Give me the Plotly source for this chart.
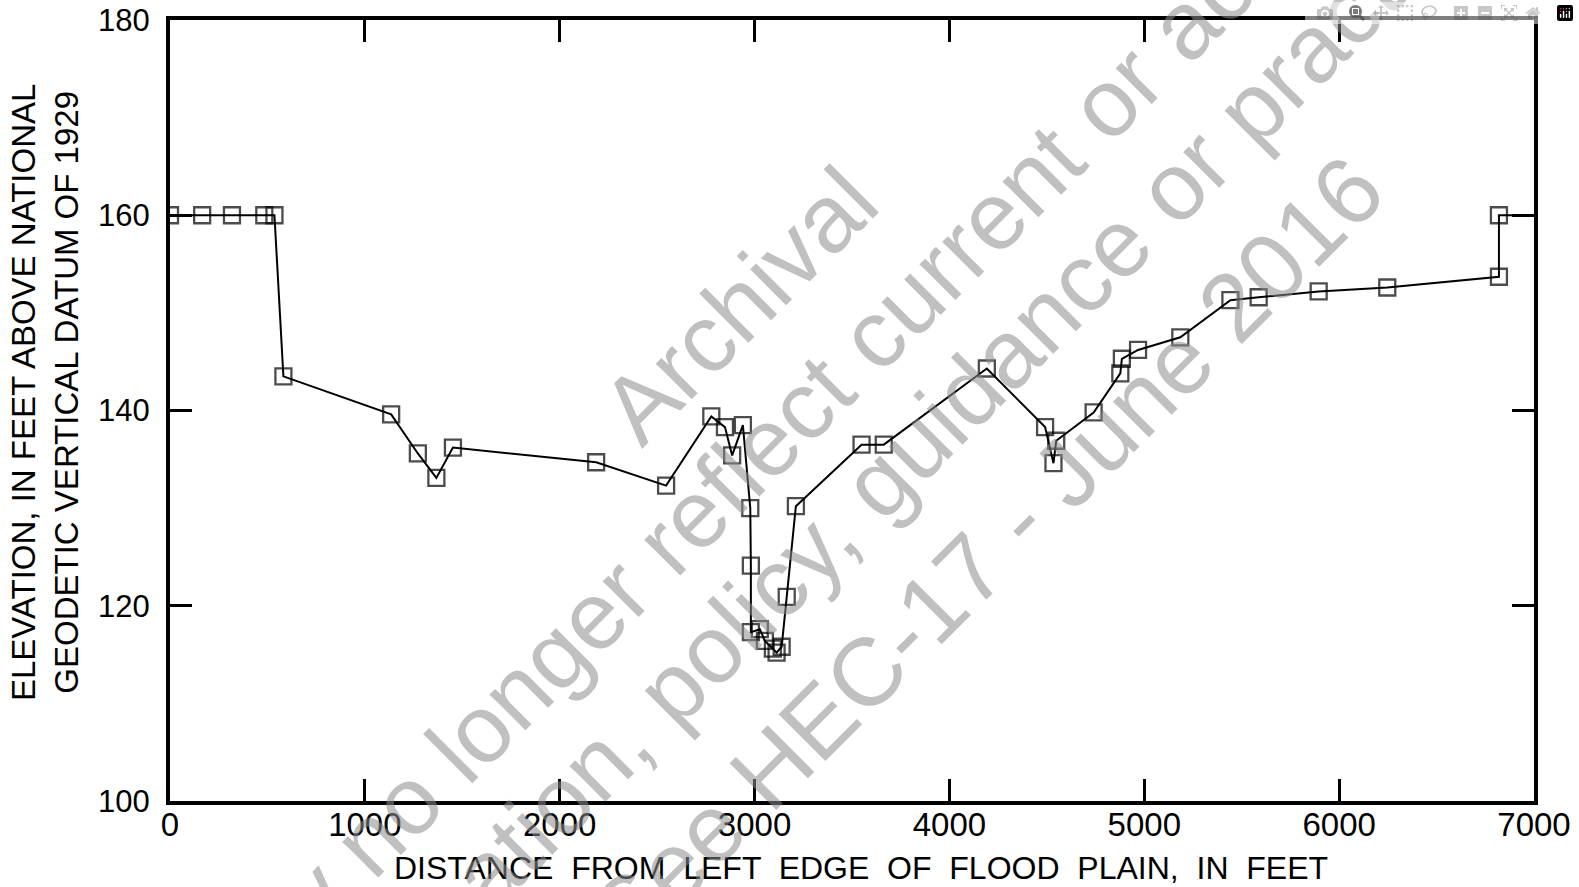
import plotly.graph_objects as go

# ---- data ----
distance_ft = [0, 165, 318, 484, 536, 582, 1135, 1272, 1367, 1452, 2187, 2546, 2778,
               2848, 2885, 2940, 2978, 2981, 2981, 3027, 3053, 3094, 3113, 3139, 3165,
               3212, 3549, 3663, 4192, 4491, 4534, 4548, 4740, 4877, 4885, 4968, 5185,
               5442, 5587, 5895, 6247, 6820, 6820, 7000]
elevation_ft = [160, 160, 160, 160, 160, 143.5, 139.6, 135.6, 133.1, 136.2, 134.7, 132.3, 139.4,
                138.3, 135.4, 138.5, 130.0, 124.1, 117.3, 117.6, 116.4, 115.6, 115.2, 115.8, 120.9,
                130.2, 136.5, 136.5, 144.3, 138.3, 134.6, 136.9, 139.8, 143.8, 145.3, 146.2, 147.5,
                151.3, 151.6, 152.2, 152.6, 153.7, 160, 160]
has_marker = [True] * (len(distance_ft) - 1) + [False]

x_ticks = [0, 1000, 2000, 3000, 4000, 5000, 6000, 7000]
y_ticks = [100, 120, 140, 160, 180]

x_title = "DISTANCE FROM LEFT EDGE OF FLOOD PLAIN, IN FEET"
y_title_lines = ["ELEVATION, IN FEET ABOVE NATIONAL", "GEODETIC VERTICAL DATUM OF 1929"]
watermark_lines = ["Archival",
                   "may no longer reflect current or accurate",
                   "information, policy, guidance or practice",
                   "See HEC-17 - June 2016"]

W, H = 1579, 887
L, R, T, B = 170, 45, 20, 86
pw, ph = W - L - R, H - T - B

def px_to_paper(xp, yp):
    return (xp - L) / pw, (H - B - yp) / ph

FONT = "Liberation Sans"

fig = go.Figure()
fig.add_trace(go.Scatter(
    x=distance_ft, y=elevation_ft, mode="lines+markers",
    line=dict(color="black", width=2),
    marker=dict(symbol="square-open", size=[16 if m else 0 for m in has_marker],
                color="black", line=dict(color="black", width=2.3)),
    showlegend=False, hoverinfo="x+y",
))

axis_common = dict(showgrid=False, zeroline=False, showline=True, linecolor="black",
                   linewidth=4, mirror="ticks", ticks="inside", ticklen=22, tickwidth=2.5,
                   tickcolor="black", automargin=False)

fig.update_xaxes(range=[0, 7000], tickvals=x_ticks, ticktext=[str(v) for v in x_ticks],
                 tickfont=dict(family=FONT, size=33, color="black"), ticklabelstandoff=-9,
                 **axis_common)
fig.update_yaxes(range=[100, 180], tickvals=y_ticks, ticktext=[str(v) for v in y_ticks],
                 tickfont=dict(family=FONT, size=31, color="black"), ticklabelstandoff=10,
                 **axis_common)

annotations = []
ax, ay = px_to_paper(861, 868)
annotations.append(dict(x=ax, y=ay, xref="paper", yref="paper",
                        text=" \u00a0".join(x_title.split(" ")), showarrow=False,
                        font=dict(family=FONT, size=32, color="black"),
                        xanchor="center", yanchor="middle"))
ax, ay = px_to_paper(45, 393)
annotations.append(dict(x=ax, y=ay, xref="paper", yref="paper", text="<br>".join(y_title_lines),
                        showarrow=False, textangle=-90,
                        font=dict(family=FONT, size=33, color="black"),
                        xanchor="center", yanchor="middle"))

# watermark line centres (pixels)
wm_centres = [(738, 305), (814, 395), (874, 485), (986, 552)]
for txt, (cx, cy) in zip(watermark_lines, wm_centres):
    ax, ay = px_to_paper(cx, cy)
    annotations.append(dict(x=ax, y=ay, xref="paper", yref="paper", text=txt, showarrow=False,
                            textangle=-45, font=dict(family=FONT, size=96,
                                                     color="rgba(140,140,140,0.55)"),
                            xanchor="center", yanchor="middle"))

fig.update_layout(width=W, height=H, margin=dict(l=L, r=R, t=T, b=B),
                  plot_bgcolor="white", paper_bgcolor="white", annotations=annotations)

fig.write_html("out.html", post_script="document.body.style.margin='0';")
